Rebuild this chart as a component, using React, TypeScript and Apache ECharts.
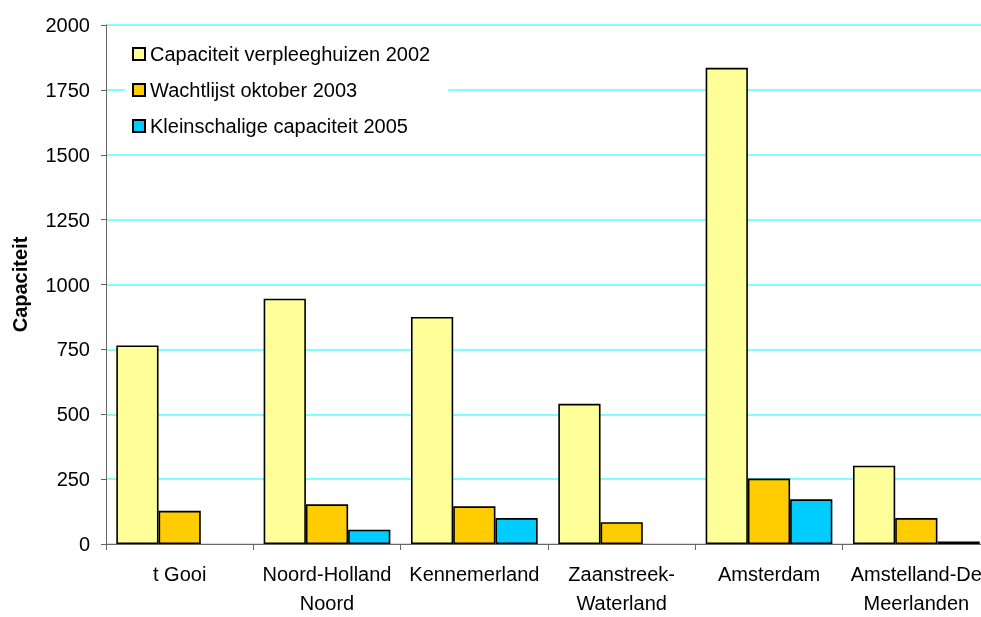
import React, { useEffect, useRef } from "react";
import * as echarts from "echarts";

const categories = ["t Gooi", "Noord-Holland\nNoord", "Kennemerland", "Zaanstreek-\nWaterland", "Amsterdam", "Amstelland-De\nMeerlanden"];
const capaciteit2002 = [765, 945, 875, 540, 1835, 302];
const wachtlijst2003 = [128, 153, 145, 84, 252, 100];
const kleinschalig2005 = [null, 55, 100, null, 172, 10];
const seriesNames = ["Capaciteit verpleeghuizen 2002", "Wachtlijst oktober 2003", "Kleinschalige capaciteit 2005"];
const colors = ["#FFFF99", "#FFCC00", "#00CCFF"];

const FONT = "'Liberation Sans', Arial, sans-serif";

export default function App() {
  const ref = useRef<HTMLDivElement>(null);
  useEffect(() => {
    if (!ref.current) return;
    const chart = echarts.init(ref.current, null, { renderer: "svg" });
    const datasets = [capaciteit2002, wachtlijst2003, kleinschalig2005];
    chart.setOption({
      animation: false,
      textStyle: { fontFamily: FONT },
      grid: { left: 106, top: 25, bottom: 68, right: 0, containLabel: false },
      legend: {
        orient: "vertical",
        left: 125,
        top: 28,
        backgroundColor: "#ffffff",
        padding: [16, 18, 13, 7],
        itemWidth: 12,
        itemHeight: 12,
        itemGap: 16,
        icon: "rect",
        textStyle: { fontSize: 20, color: "#000", fontFamily: FONT },
        data: seriesNames,
      },
      xAxis: {
        type: "category",
        data: categories,
        axisLine: { show: true, lineStyle: { color: "#666666", width: 1 } },
        axisTick: { show: true, alignWithLabel: false, length: 6, lineStyle: { color: "#666666" } },
        axisLabel: { fontSize: 20, color: "#000", lineHeight: 29, margin: 15, fontFamily: FONT, interval: 0 },
        splitLine: { show: false },
      },
      yAxis: {
        type: "value",
        min: 0,
        max: 2000,
        interval: 250,
        name: "Capaciteit",
        nameLocation: "middle",
        nameRotate: 90,
        nameGap: 76,
        nameTextStyle: { fontSize: 20, fontWeight: "bold", color: "#000", fontFamily: FONT },
        axisLine: { show: true, lineStyle: { color: "#666666", width: 1 } },
        axisTick: { show: true, length: 5, lineStyle: { color: "#666666" } },
        axisLabel: { fontSize: 20, color: "#000", margin: 16, fontFamily: FONT, formatter: (v: number) => String(v) },
        splitLine: { show: true, lineStyle: { color: "#55FFFF", width: 1.5 } },
      },
      series: datasets.map((d, i) => ({
        name: seriesNames[i],
        type: "bar",
        data: d,
        barGap: "0%",
        barCategoryGap: "14%",
        itemStyle: { color: colors[i], borderColor: "#000", borderWidth: 1.6 },
      })),
    });
    return () => chart.dispose();
  }, []);
  return (
    <div style={{ position: "fixed", left: 0, top: 0, width: 981, height: 617, overflow: "hidden" }}>
      <div ref={ref} style={{ width: 990, height: 617 }} />
    </div>
  );
}
